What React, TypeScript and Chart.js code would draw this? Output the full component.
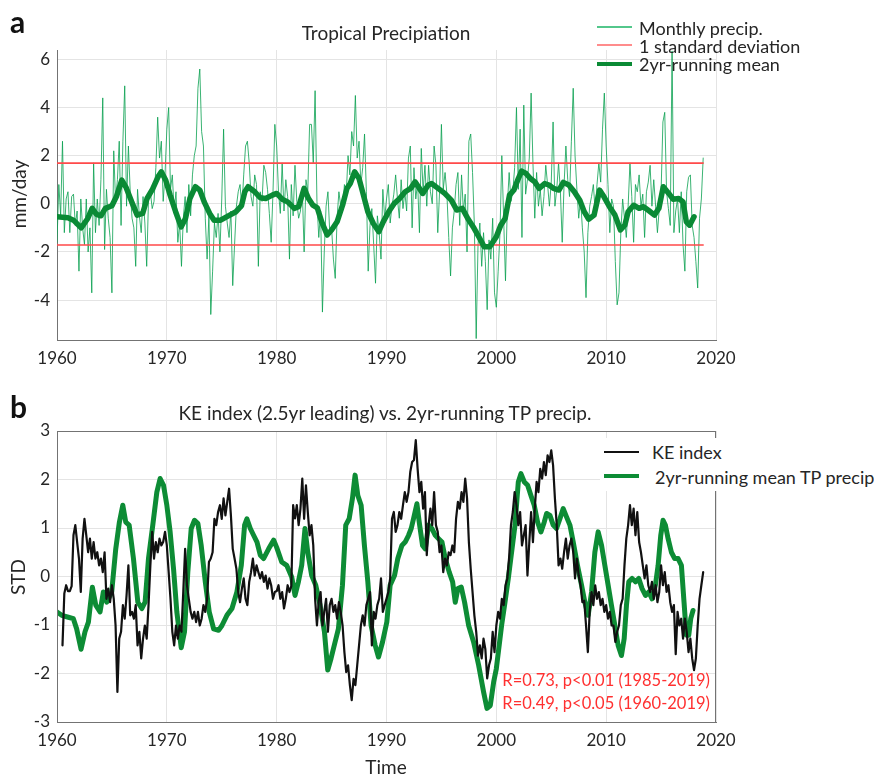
import React, { useEffect, useRef } from "react";
import { Chart, registerables } from "chart.js";

Chart.register(...registerables);

// ---------------- data ----------------
const xTicks = [1960, 1970, 1980, 1990, 2000, 2010, 2020];
const yTicksA = [-4, -2, 0, 2, 4, 6];
const yTicksB = [-3, -2, -1, 0, 1, 2, 3];
const xRange = [1960, 2020];
const yRangeA = [-5.66, 6.39];
const yRangeB = [-3, 3];

const firstYear = 1960;
const stepsPerYear = 6; // bi-monthly samples per row

// Panel a: monthly tropical precipitation anomaly (mm/day), one row per year
const monthlyPrecip: number[][] = [
  [-1.6, 0.8, -0.5, 2.6, -1.2, 0.2],
  [0.5, -1.2, 0.3, 0.4, -0.9, -0.3],
  [-2.8, 0.2, -1.0, -1.7, 0.2, -2.0],
  [-1.0, -3.7, 1.7, -1.2, 0.2, -0.9],
  [1.0, 4.4, -1.9, 0.6, -0.6, -1.4],
  [-3.7, 2.2, 0.1, 1.0, 2.6, -0.9],
  [2.6, 4.9, -0.1, 2.4, 0.5, -0.6],
  [-1.0, -2.6, 0.6, -0.5, -1.2, 0.3],
  [-0.8, -2.6, 0.2, 0.5, -0.2, 0.1],
  [1.5, 3.6, 1.9, 2.6, 0.1, 1.2],
  [3.1, 4.0, 0.6, 1.2, -0.3, 0.5],
  [-1.6, -0.8, -2.6, -0.6, 0.3, -1.2],
  [0.8, -0.5, 1.2, 2.0, 2.4, 4.8],
  [5.6, 3.0, 2.4, -0.6, -2.3, -0.5],
  [-4.6, -2.8, -0.8, -1.4, -0.4, -2.0],
  [0.2, 3.1, -0.1, -0.8, -1.4, -0.3],
  [-3.4, -1.7, -0.1, 0.5, 0.8, -0.2],
  [1.2, 2.4, 2.6, 1.7, 0.3, -0.1],
  [1.2, 0.8, -2.6, 0.5, 0.1, 1.6],
  [1.3, 0.6, -0.4, -1.6, 0.5, 3.3],
  [2.4, 0.5, -0.4, 1.7, -0.3, 1.0],
  [0.3, -2.3, 0.8, -0.5, 1.6, 0.1],
  [-0.6, -0.3, 0.6, -2.0, 1.0, 0.5],
  [3.3, 3.3, 1.7, 4.7, 0.1, -1.4],
  [-0.3, -4.5, -2.0, -0.1, 0.5, -1.2],
  [-1.0, -2.3, -3.1, -0.6, 0.5, -0.1],
  [-0.3, 0.8, 0.4, 2.0, 1.2, 3.0],
  [2.4, 4.5, 1.9, 2.6, 0.8, 1.5],
  [2.9, 0.5, -2.8, -0.9, -0.2, -1.7],
  [-3.3, -0.5, -1.2, -2.3, 0.6, -0.6],
  [0.2, 0.8, -0.8, -0.1, 0.4, 1.2],
  [0.2, -0.6, 1.0, -0.2, 0.5, -0.3],
  [1.9, 2.4, -1.0, 1.5, 0.2, 0.9],
  [-1.2, 2.3, 0.5, 1.6, -0.1, 1.6],
  [0.5, 0.0, 2.4, 1.6, -1.2, 0.5],
  [3.3, 0.6, 1.3, 0.4, -1.4, -3.0],
  [-1.0, -0.3, 0.8, 1.3, -0.9, 1.2],
  [-0.3, 0.4, -2.0, 2.6, 2.9, 1.3],
  [-0.9, -5.6, -1.7, -0.8, -2.6, -1.2],
  [-2.4, -4.4, -1.5, -2.3, -0.6, -3.7],
  [-4.3, -2.8, -1.2, 2.0, -0.6, -3.2],
  [-0.1, 1.3, 0.1, 0.5, 1.5, 4.0],
  [0.6, 3.1, -1.4, 4.1, 0.4, 1.0],
  [1.9, 4.6, 1.7, -0.6, 1.3, -0.1],
  [0.6, -0.5, 0.3, 1.6, 0.8, -0.1],
  [0.9, 3.4, -0.1, 0.6, 1.7, 0.5],
  [-1.6, 0.8, 2.4, 1.0, 0.3, 2.6],
  [4.8, 2.0, 0.6, -0.6, 0.2, -1.0],
  [-2.0, -3.9, -1.2, -0.1, 0.3, 0.8],
  [-0.3, 0.8, 1.7, 0.9, 3.1, 4.6],
  [2.4, 0.8, -1.2, 0.2, -0.1, -2.4],
  [-4.2, -3.7, -1.2, 0.2, -0.6, -1.4],
  [-0.1, 1.7, 0.3, -1.6, 0.8, 0.5],
  [1.2, -0.1, 0.4, -1.4, 0.5, 0.9],
  [1.6, -0.1, 1.0, -0.1, -1.2, -0.2],
  [0.5, 3.4, 3.8, 0.5, -0.2, -0.9],
  [6.35, -1.2, -0.3, 0.2, -1.2, 0.5],
  [-1.7, -2.8, 0.5, 1.1, 1.2, -0.9],
  [-1.4, -2.4, -3.5, -0.6, 0.2, 1.9],
];

const stdUpper = 1.69;
const stdLower = -1.71;
const stdSpan = [1960, 2018.83];

// Panel a: 2-year running mean [year, mm/day]
const precipMean2yr: [number, number][] = [
  [1960.0, -0.54], [1961.0, -0.58], [1961.5, -0.68], [1962.2, -1.0], [1962.8, -0.61],
  [1963.2, -0.19], [1963.6, -0.44], [1964.0, -0.5], [1964.4, -0.19], [1965.0, -0.08],
  [1965.4, 0.29], [1965.9, 0.98], [1966.3, 0.67], [1966.8, 0.08], [1967.3, -0.47],
  [1967.8, -0.4], [1968.2, 0.22], [1968.7, 0.61], [1969.2, 1.12], [1969.5, 1.33],
  [1969.9, 0.98], [1970.3, 0.36], [1970.8, -0.33], [1971.3, -0.96], [1971.7, -0.61],
  [1972.1, 0.22], [1972.6, 0.71], [1973.0, 0.57], [1973.4, 0.08], [1973.9, -0.4],
  [1974.3, -0.68], [1974.9, -0.68], [1975.6, -0.5], [1976.3, -0.33], [1976.8, -0.08],
  [1977.1, 0.5], [1977.4, 0.71], [1978.0, 0.5], [1978.5, 0.25], [1979.0, 0.22],
  [1979.6, 0.36], [1980.0, 0.43], [1980.5, 0.19], [1981.0, 0.08], [1981.6, -0.19],
  [1982.0, -0.12], [1982.5, 0.64], [1982.9, 0.22], [1983.3, -0.06], [1983.7, -0.17],
  [1984.1, -0.75], [1984.6, -1.3], [1985.0, -1.09], [1985.5, -0.75], [1986.0, -0.06],
  [1986.4, 0.64], [1986.7, 0.84], [1987.1, 1.33], [1987.5, 1.05], [1987.9, 0.36],
  [1988.3, -0.33], [1988.8, -0.82], [1989.3, -1.16], [1989.7, -0.75], [1990.2, -0.33],
  [1990.7, 0.01], [1991.2, 0.22], [1991.7, 0.5], [1992.2, 0.64], [1992.6, 0.91],
  [1993.0, 0.64], [1993.3, 0.43], [1993.8, 0.78], [1994.1, 0.84], [1994.7, 0.64],
  [1995.3, 0.43], [1995.9, 0.15], [1996.4, -0.26], [1996.9, -0.19], [1997.4, -0.61],
  [1997.9, -0.96], [1998.4, -1.37], [1998.9, -1.79], [1999.4, -1.79], [2000.0, -1.37],
  [2000.4, -0.89], [2000.8, -0.61], [2001.2, 0.36], [2001.6, 0.57], [2002.0, 1.05],
  [2002.3, 1.36], [2002.7, 1.26], [2003.1, 1.05], [2003.5, 0.91], [2003.9, 0.64],
  [2004.4, 0.84], [2004.8, 0.78], [2005.2, 0.64], [2005.7, 0.57], [2006.1, 0.89],
  [2006.6, 0.78], [2007.1, 0.5], [2007.6, 0.15], [2008.0, -0.33], [2008.4, -0.64],
  [2008.9, -0.47], [2009.4, 0.57], [2009.8, 0.29], [2010.3, -0.12], [2010.8, -0.47],
  [2011.3, -1.09], [2011.7, -0.89], [2012.0, -0.33], [2012.5, -0.06], [2013.0, -0.19],
  [2013.4, -0.12], [2013.9, -0.29], [2014.4, -0.47], [2014.8, -0.19], [2015.2, 0.71],
  [2015.7, 0.43], [2016.1, 0.19], [2016.6, 0.22], [2017.0, 0.08], [2017.3, -0.75],
  [2017.6, -0.89], [2018.0, -0.54],
];

// Panel b: KE index (2.5 yr leading), STD units, one row per year
const keIndex: (number | null)[][] = [
  [null, null, null, -1.42, -0.35, -0.18],
  [-0.3, -0.3, -0.2, 0.85, 1.06, 0.71],
  [0.37, -0.32, 0.78, 1.19, 0.85, 0.5],
  [0.78, 0.37, 0.71, 0.37, 0.5, 0.23],
  [0.37, 0.09, 0.5, -0.46, -0.25, -0.53],
  [-0.18, -0.46, -1.01, -2.38, -1.28, -1.14],
  [-0.59, -0.87, -0.39, 0.23, -0.8, -0.73],
  [-0.87, -0.59, -1.42, -1.14, -1.69, -1.28],
  [-1.01, -1.28, -0.59, 0.23, 0.92, 0.37],
  [0.71, 0.5, 0.78, 0.64, 0.71, 0.92],
  [0.64, 0.09, -0.46, -1.14, -1.42, -1.01],
  [-1.28, -1.01, -1.14, -0.3, 0.57, -0.18],
  [-0.46, -0.73, -0.87, -0.73, -0.94, -0.73],
  [-1.01, -0.87, -0.59, -0.73, -0.46, 0.3],
  [0.37, 0.5, 1.19, 1.06, 1.33, 1.47],
  [1.19, 1.61, 1.26, 1.54, 1.81, 1.26],
  [0.57, 0.37, 0.16, -0.32, -0.53, -0.25],
  [-0.04, -0.46, -0.59, -0.11, 0.09, 0.37],
  [0.02, 0.23, 0.09, -0.04, 0.09, -0.11],
  [0.02, -0.25, -0.04, -0.18, -0.46, -0.32],
  [-0.3, -0.18, -0.46, -0.32, -0.66, -0.46],
  [-0.18, -0.32, -0.2, 1.47, 1.2, 1.47],
  [1.06, 1.4, 2.02, 1.19, 1.88, 1.33],
  [0.85, 1.06, 0.64, -0.46, -1.01, -0.5],
  [-0.32, -1.01, -0.73, -0.46, -1.14, -0.59],
  [-0.46, -0.73, -0.59, -0.87, -0.53, -0.73],
  [-1.01, -1.56, -1.97, -1.83, -2.24, -2.55],
  [-2.11, -2.24, -1.83, -1.42, -1.01, -0.8],
  [-1.01, -0.59, -0.46, -0.32, -1.42, -0.73],
  [-0.87, -0.59, -0.46, -0.04, -0.73, -0.59],
  [-0.46, -0.32, -0.04, 1.19, 1.33, 0.92],
  [1.06, 1.33, 1.19, 1.47, 1.74, 1.54],
  [1.74, 2.16, 2.36, 2.4, 2.81, 2.22],
  [1.74, 1.95, 1.4, 1.74, 0.44, 1.06],
  [1.4, 1.06, 1.74, 1.06, 0.92, 0.5],
  [0.64, 0.09, 0.37, 0.23, 0.5, 0.44],
  [0.64, 0.5, 1.19, 1.54, 1.4, 1.74],
  [1.54, 2.02, 1.61, 0.71, 0.16, -0.32],
  [-0.8, -1.14, -1.63, -1.42, -1.69, -1.28],
  [-1.5, -2.1, -1.83, -1.69, -1.14, -1.56],
  [-1.01, -0.73, -0.87, -0.46, -0.59, -0.18],
  [-0.04, 0.4, 1.06, 1.33, 1.74, 1.47],
  [1.06, 1.33, 0.64, 0.85, 1.06, 0.02],
  [0.7, 1.33, 0.71, 1.4, 1.95, 1.74],
  [2.22, 2.02, 2.36, 2.09, 2.5, 2.36],
  [2.6, 2.29, 1.61, 1.06, 0.23, 0.37],
  [0.16, 0.5, 0.78, 0.37, 0.64, 0.78],
  [0.5, -0.04, 0.37, 0.02, -0.18, -0.53],
  [-0.5, -1.01, -1.56, -0.73, -0.32, -0.59],
  [-0.18, -0.46, -0.32, -0.59, -0.46, -0.73],
  [-0.59, -0.87, -0.73, -1.01, -1.01, -1.35],
  [-1.14, -1.01, -0.59, -0.46, 0.23, 0.78],
  [1.06, 1.47, 1.06, 1.4, 0.85, 1.33],
  [0.71, 0.5, 0.23, -0.04, 0.23, -0.18],
  [-0.32, -0.11, -0.46, -0.18, -0.53, -0.32],
  [0.23, -0.18, 0.09, -0.32, -0.18, -0.53],
  [-0.73, -0.59, -1.6, -0.73, -1.01, -0.87],
  [-1.28, -0.87, -1.14, -1.56, -1.28, -1.69],
  [-1.93, -1.69, -1.01, -0.46, -0.18, 0.09],
];

// Panel b: standardized 2-yr running mean TP precip [year, STD]
const tpMeanStd: [number, number][] = [
  [1960.0, -0.73], [1960.43, -0.8], [1961.03, -0.84], [1961.49, -0.87], [1961.79, -1.08],
  [1962.19, -1.5], [1962.55, -1.14], [1962.86, -0.94], [1963.22, -0.22], [1963.53, -0.59],
  [1963.92, -0.73], [1964.22, -0.32], [1964.53, -0.53], [1964.98, -0.32], [1965.35, 0.57],
  [1965.68, 1.12], [1965.99, 1.47], [1966.26, 1.12], [1966.57, 1.06], [1966.96, 0.37],
  [1967.36, -0.53], [1967.72, -0.66], [1968.02, -0.53], [1968.33, 0.37], [1968.72, 1.06],
  [1969.09, 1.74], [1969.39, 2.02], [1969.7, 1.88], [1970.0, 1.47], [1970.3, 0.92],
  [1970.61, 0.16], [1970.91, -0.73], [1971.31, -1.47], [1971.61, -1.14], [1971.91, 0.09],
  [1972.22, 0.99], [1972.52, 1.16], [1972.83, 1.09], [1973.13, 0.64], [1973.5, -0.11],
  [1973.86, -0.73], [1974.26, -1.08], [1974.71, -1.11], [1975.02, -1.01], [1975.47, -0.8],
  [1975.93, -0.66], [1976.38, -0.32], [1976.78, 0.23], [1977.08, 1.06], [1977.29, 1.19],
  [1977.6, 0.99], [1977.9, 0.85], [1978.21, 0.71], [1978.51, 0.44], [1978.81, 0.37],
  [1979.27, 0.57], [1979.73, 0.75], [1980.0, 0.6], [1980.46, 0.3], [1980.91, 0.23],
  [1981.37, -0.01], [1981.67, -0.39], [1981.98, -0.11], [1982.28, 0.23], [1982.58, 0.99],
  [1982.83, 0.5], [1983.19, 0.02], [1983.56, -0.18], [1983.95, -0.59], [1984.35, -1.14],
  [1984.65, -1.93], [1984.95, -1.69], [1985.32, -1.35], [1985.62, -1.08], [1985.99, -0.18],
  [1986.29, 1.06], [1986.6, 1.19], [1986.9, 1.61], [1987.14, 2.09], [1987.39, 1.67],
  [1987.69, 1.47], [1987.99, 0.64], [1988.3, -0.11], [1988.6, -1.01], [1988.97, -1.42],
  [1989.27, -1.66], [1989.64, -1.35], [1990.03, -0.94], [1990.33, -0.18], [1990.73, 0.02],
  [1991.03, 0.37], [1991.4, 0.64], [1991.7, 0.71], [1992.01, 0.85], [1992.25, 0.99],
  [1992.46, 1.19], [1992.77, 1.5], [1992.98, 1.12], [1993.28, 0.64], [1993.53, 0.57],
  [1993.83, 1.06], [1994.13, 0.99], [1994.44, 0.85], [1994.74, 0.78], [1995.05, 0.71],
  [1995.35, 0.37], [1995.71, 0.09], [1996.02, -0.11], [1996.26, -0.53], [1996.5, -0.25],
  [1996.81, -0.22], [1997.11, -0.53], [1997.48, -1.01], [1997.93, -1.35], [1998.39, -1.83],
  [1998.84, -2.38], [1999.15, -2.72], [1999.45, -2.66], [1999.76, -2.17], [2000.0, -1.9],
  [2000.48, -1.01], [2000.79, -0.53], [2001.09, -0.04], [2001.39, 0.5], [2001.7, 1.06],
  [2002.0, 1.95], [2002.24, 2.12], [2002.55, 1.95], [2002.85, 1.88], [2003.15, 1.67],
  [2003.45, 1.47], [2003.76, 1.12], [2004.06, 0.92], [2004.36, 1.12], [2004.58, 1.3],
  [2004.88, 1.26], [2005.18, 1.06], [2005.48, 0.99], [2005.79, 1.19], [2006.09, 1.4],
  [2006.39, 1.23], [2006.7, 1.06], [2007.0, 0.71], [2007.39, 0.23], [2007.76, -0.18],
  [2008.06, -0.53], [2008.36, -0.8], [2008.67, -0.32], [2008.97, 0.5], [2009.27, 0.92],
  [2009.58, 0.64], [2009.88, 0.23], [2010.18, -0.18], [2010.48, -0.59], [2010.79, -1.01],
  [2011.09, -1.42], [2011.39, -1.63], [2011.64, -1.28], [2011.85, -0.59], [2012.06, -0.11],
  [2012.36, -0.04], [2012.67, -0.11], [2012.97, -0.04], [2013.27, -0.25], [2013.58, -0.39],
  [2013.88, -0.32], [2014.18, -0.46], [2014.48, -0.18], [2014.73, 0.23], [2014.97, 0.85],
  [2015.18, 1.16], [2015.39, 1.06], [2015.64, 0.78], [2015.94, 0.5], [2016.24, 0.37],
  [2016.55, 0.37], [2016.85, 0.23], [2017.09, -0.53], [2017.3, -1.21], [2017.52, -1.21],
  [2017.7, -0.87], [2017.91, -0.7],
];

// ---------------- styling ----------------
const FONT = "Lato, 'Open Sans', 'DejaVu Sans', sans-serif";
const AXIS = "#737373";
const GRID = "#e4e4e4";
const TEXT = "#262626";
const THIN_GREEN = "rgba(10,160,80,0.8)";
const MEAN_GREEN = "#0a8a35";
const RED = "#ff4a4a";
const B_GREEN = "#0d8c35";
const BLACK = "#111111";

function rowsToPoints(rows: (number | null)[][], start: number, perYear: number) {
  const pts: { x: number; y: number }[] = [];
  rows.forEach((row, i) =>
    row.forEach((v, k) => {
      if (v !== null) pts.push({ x: start + i + k / perYear, y: v });
    })
  );
  return pts;
}
const pairsToPoints = (pairs: [number, number][]) => pairs.map(([x, y]) => ({ x, y }));

function axis(kind: "x" | "y", range: number[], tickVals: number[], fit: number) {
  return {
    type: "linear",
    position: kind === "x" ? "bottom" : "left",
    min: range[0],
    max: range[1],
    afterBuildTicks: (s: any) => {
      s.ticks = tickVals.map((v) => ({ value: v }));
    },
    afterFit: (s: any) => {
      if (kind === "x") s.height = fit;
      else s.width = fit;
    },
    grid: { color: GRID, lineWidth: 1, drawTicks: false },
    border: { color: AXIS, width: 1 },
    ticks: {
      padding: kind === "x" ? 8 : 7,
      color: TEXT,
      font: { family: FONT, size: 17 },
      autoSkip: false,
      maxRotation: 0,
      callback: (v: any) => String(v),
    },
  };
}

const boxPlugin = {
  id: "boxFrame",
  afterDatasetsDraw(chart: any, _args: any, opts: any) {
    if (!opts || !opts.on) return;
    const { ctx, chartArea: a } = chart;
    ctx.save();
    ctx.strokeStyle = AXIS;
    ctx.lineWidth = 1;
    ctx.strokeRect(a.left + 0.5, a.top + 0.5, a.right - a.left - 1, a.bottom - a.top);
    ctx.restore();
  },
};

const W = 874;
const H_A = 380;
const H_B = 396;

export default function App() {
  const refA = useRef<HTMLCanvasElement>(null);
  const refB = useRef<HTMLCanvasElement>(null);

  useEffect(() => {
    const common = {
      responsive: false,
      animation: false,
      events: [],
      elements: {
        point: { radius: 0 },
        line: { tension: 0, borderJoinStyle: "round", borderCapStyle: "round", fill: false },
      },
    };

    const chartA = new Chart(refA.current as HTMLCanvasElement, {
      type: "line",
      data: {
        datasets: [
          { label: "2yr-running mean", data: pairsToPoints(precipMean2yr), borderColor: MEAN_GREEN, borderWidth: 5.5, order: 0 },
          { label: "1 standard deviation", data: [{ x: stdSpan[0], y: stdUpper }, { x: stdSpan[1], y: stdUpper }], borderColor: RED, borderWidth: 1.6, order: 1 },
          { label: "-1 standard deviation", data: [{ x: stdSpan[0], y: stdLower }, { x: stdSpan[1], y: stdLower }], borderColor: RED, borderWidth: 1.6, order: 2 },
          { label: "Monthly precip.", data: rowsToPoints(monthlyPrecip, firstYear, stepsPerYear), borderColor: THIN_GREEN, borderWidth: 1, order: 3 },
        ],
      },
      options: {
        ...common,
        layout: { padding: { left: 0, top: 50, right: W - 716, bottom: 0 } },
        plugins: { legend: { display: false }, title: { display: false }, tooltip: { enabled: false }, boxFrame: { on: false } },
        scales: {
          x: axis("x", xRange, xTicks, 40),
          y: axis("y", yRangeA, yTicksA, 57),
        },
      } as any,
      plugins: [boxPlugin],
    } as any);

    const chartB = new Chart(refB.current as HTMLCanvasElement, {
      type: "line",
      data: {
        datasets: [
          { label: "KE index", data: rowsToPoints(keIndex, firstYear, stepsPerYear), borderColor: BLACK, borderWidth: 2.2, order: 0 },
          { label: "2yr-running mean TP precip", data: pairsToPoints(tpMeanStd), borderColor: B_GREEN, borderWidth: 5, order: 1 },
        ],
      },
      options: {
        ...common,
        layout: { padding: { left: 0, top: 51, right: W - 716, bottom: 0 } },
        plugins: { legend: { display: false }, title: { display: false }, tooltip: { enabled: false }, boxFrame: { on: true } },
        scales: {
          x: axis("x", xRange, xTicks, H_B - 342),
          y: axis("y", yRangeB, yTicksB, 57),
        },
      } as any,
      plugins: [boxPlugin],
    } as any);

    return () => {
      chartA.destroy();
      chartB.destroy();
    };
  }, []);

  const txt = (extra: React.CSSProperties): React.CSSProperties => ({
    position: "absolute",
    fontFamily: FONT,
    color: TEXT,
    whiteSpace: "nowrap",
    lineHeight: 1,
    ...extra,
  });
  const swatch = (left: number, top: number, width: number, h: number, color: string): React.CSSProperties => ({
    position: "absolute",
    left,
    top: top - h / 2,
    width,
    height: h,
    background: color,
  });

  return (
    <div style={{ position: "absolute", left: 0, top: 0, width: W, height: 776, overflow: "hidden", background: "#fff" }}>
      <canvas ref={refA} width={W} height={H_A} style={{ position: "absolute", left: 0, top: 0, width: W, height: H_A }} />
      <canvas ref={refB} width={W} height={H_B} style={{ position: "absolute", left: 0, top: 380, width: W, height: H_B }} />

      {/* panel labels */}
      <div style={txt({ left: 10, top: 6, fontSize: 30, fontWeight: 700, color: "#111" })}>a</div>
      <div style={txt({ left: 10, top: 391, fontSize: 30, fontWeight: 700, color: "#111" })}>b</div>

      {/* titles */}
      <div style={txt({ left: 386, top: 32, fontSize: 19, transform: "translate(-50%,-50%)" })}>Tropical Precipiation</div>
      <div style={txt({ left: 385, top: 412, fontSize: 19, transform: "translate(-50%,-50%)" })}>
        KE index (2.5yr leading) vs. 2yr-running TP precip.
      </div>

      {/* axis titles */}
      <div style={txt({ left: 18, top: 194, fontSize: 19, transform: "translate(-50%,-50%) rotate(-90deg)" })}>mm/day</div>
      <div style={txt({ left: 17, top: 577, fontSize: 19, transform: "translate(-50%,-50%) rotate(-90deg)" })}>STD</div>
      <div style={txt({ left: 386, top: 766, fontSize: 19, transform: "translate(-50%,-50%)" })}>Time</div>

      {/* legend a */}
      <div style={swatch(597, 27, 35, 1.5, "rgba(40,185,110,0.8)")} />
      <div style={swatch(597, 45, 35, 1.5, "rgba(255,120,120,0.85)")} />
      <div style={swatch(597, 64, 35, 4, MEAN_GREEN)} />
      <div style={txt({ left: 639, top: 28, fontSize: 18, transform: "translateY(-50%)" })}>Monthly precip.</div>
      <div style={txt({ left: 639, top: 46, fontSize: 18, transform: "translateY(-50%)" })}>1 standard deviation</div>
      <div style={txt({ left: 639, top: 64, fontSize: 18, transform: "translateY(-50%)" })}>2yr-running mean</div>

      {/* legend b */}
      <div style={{ position: "absolute", left: 600, top: 438, width: 274, height: 53, background: "#fff" }} />
      <div style={swatch(604, 452, 35, 2.5, BLACK)} />
      <div style={swatch(604, 476, 35, 4, B_GREEN)} />
      <div style={txt({ left: 652, top: 452, fontSize: 18, transform: "translateY(-50%)" })}>KE index</div>
      <div style={txt({ left: 655, top: 477, fontSize: 18, transform: "translateY(-50%)" })}>2yr-running mean TP precip</div>

      {/* correlation annotations */}
      <div style={txt({ left: 710, top: 680, fontSize: 16.5, color: "#ff3030", transform: "translate(-100%,-50%)" })}>
        R=0.73, p&lt;0.01 (1985-2019)
      </div>
      <div style={txt({ left: 710, top: 703, fontSize: 16.5, color: "#ff3030", transform: "translate(-100%,-50%)" })}>
        R=0.49, p&lt;0.05 (1960-2019)
      </div>
    </div>
  );
}
